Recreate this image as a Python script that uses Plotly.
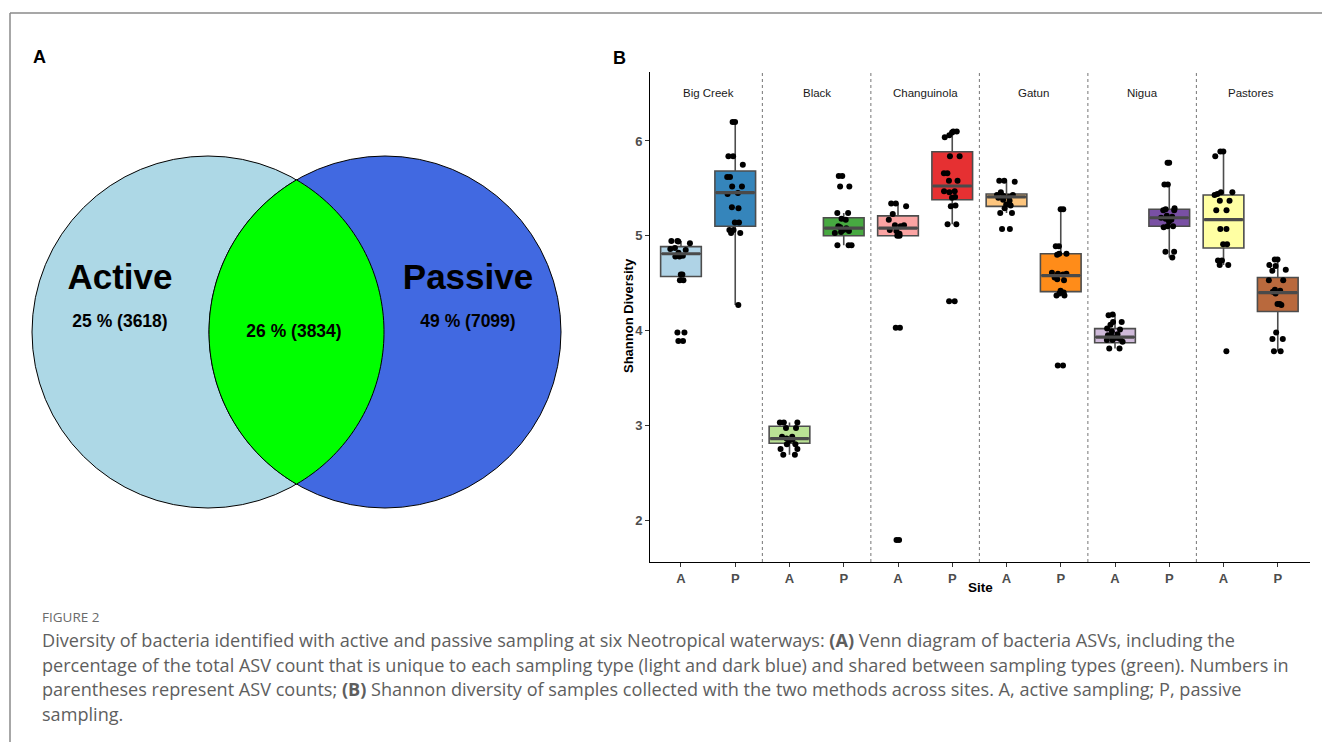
import numpy as np
import plotly.graph_objects as go

W, H = 1322, 742

# ---------------- Panel A data (Venn) ----------------
venn_sets = ["Active", "Passive"]
venn_counts = [3618, 3834, 7099]          # active-only, shared, passive-only
venn_total = sum(venn_counts)
venn_pct = [round(100 * c / venn_total) for c in venn_counts]

# ---------------- Panel B data (Shannon diversity) ----------------
sites = ["Big Creek", "Black", "Changuinola", "Gatun", "Nigua", "Pastores"]
methods = ["A", "P"]

big_creek_A = [4.945, 4.945, 4.94, 4.92, 4.87, 4.86, 4.85, 4.82, 4.79, 4.78, 4.78, 4.59, 4.59, 4.53, 4.53, 3.98, 3.98, 3.89, 3.89]
big_creek_P = [6.20, 6.20, 5.84, 5.84, 5.75, 5.62, 5.62, 5.52, 5.52, 5.45, 5.44, 5.30, 5.29, 5.14, 5.14, 5.06, 5.06, 5.03, 5.03, 4.27]
black_A = [3.03, 3.03, 3.03, 2.97, 2.97, 2.88, 2.88, 2.86, 2.85, 2.84, 2.80, 2.80, 2.75, 2.75, 2.69, 2.69]
black_P = [5.63, 5.63, 5.52, 5.52, 5.24, 5.24, 5.18, 5.17, 5.10, 5.09, 5.08, 5.06, 5.05, 5.04, 5.03, 4.90, 4.90, 4.90]
changuinola_A = [5.34, 5.34, 5.31, 5.23, 5.17, 5.11, 5.11, 5.10, 5.06, 5.05, 5.02, 5.01, 5.00, 5.00, 4.03, 4.03, 1.79, 1.79]
changuinola_P = [6.10, 6.10, 6.09, 6.06, 6.04, 5.84, 5.84, 5.66, 5.66, 5.58, 5.58, 5.47, 5.47, 5.46, 5.41, 5.40, 5.32, 5.31, 5.12, 5.12, 4.31, 4.31]
gatun_A = [5.58, 5.58, 5.57, 5.46, 5.43, 5.43, 5.42, 5.41, 5.40, 5.38, 5.37, 5.33, 5.32, 5.29, 5.24, 5.24, 5.07, 5.07]
gatun_P = [5.28, 5.28, 4.89, 4.89, 4.81, 4.81, 4.80, 4.61, 4.60, 4.60, 4.59, 4.56, 4.54, 4.53, 4.42, 4.40, 4.39, 4.37, 4.37, 3.63, 3.63]
nigua_A = [4.17, 4.16, 4.09, 4.09, 4.06, 4.02, 4.01, 3.99, 3.96, 3.95, 3.94, 3.92, 3.92, 3.91, 3.90, 3.90, 3.88, 3.81, 3.81]
nigua_P = [5.77, 5.77, 5.54, 5.54, 5.29, 5.28, 5.27, 5.27, 5.21, 5.20, 5.19, 5.18, 5.17, 5.15, 5.10, 5.10, 5.09, 4.83, 4.83, 4.77]
pastores_A = [5.89, 5.89, 5.84, 5.46, 5.46, 5.44, 5.43, 5.37, 5.37, 5.27, 5.27, 5.07, 5.07, 4.91, 4.91, 4.74, 4.74, 4.69, 4.69, 3.78]
pastores_P = [4.75, 4.75, 4.69, 4.68, 4.64, 4.63, 4.53, 4.53, 4.43, 4.42, 4.41, 4.39, 4.28, 4.28, 4.27, 3.98, 3.91, 3.91, 3.78, 3.78]

samples = [big_creek_A, big_creek_P, black_A, black_P, changuinola_A, changuinola_P,
           gatun_A, gatun_P, nigua_A, nigua_P, pastores_A, pastores_P]

# box statistics as drawn in the figure (same group order as samples)
box_q1 = [4.57, 5.10, 2.81, 5.00, 5.00, 5.38, 5.31, 4.41, 3.87, 5.10, 4.87, 4.20]
box_median = [4.81, 5.455, 2.86, 5.08, 5.08, 5.525, 5.41, 4.58, 3.93, 5.19, 5.17, 4.40]
box_q3 = [4.885, 5.683, 2.99, 5.19, 5.21, 5.887, 5.44, 4.81, 4.02, 5.28, 5.43, 4.56]
box_lower = [4.52, 4.27, 2.69, 4.90, 5.00, 5.12, 5.24, 4.37, 3.81, 4.77, 4.69, 3.78]
box_upper = [4.945, 6.20, 3.03, 5.24, 5.34, 6.10, 5.57, 5.28, 4.17, 5.54, 5.89, 4.75]

y_ticks = [2, 3, 4, 5, 6]

palette = ["#A6CEE3", "#1F78B4", "#B2DF8A", "#33A02C", "#FB9A99", "#E31A1C",
           "#FDBF6F", "#FF7F00", "#CAB2D6", "#6A3D9A", "#FFFF99", "#B15928"]

caption_head = "FIGURE 2"
caption_lines = [
    "Diversity of bacteria identified with active and passive sampling at six Neotropical waterways: <b>(A)</b> Venn diagram of bacteria ASVs, including the",
    "percentage of the total ASV count that is unique to each sampling type (light and dark blue) and shared between sampling types (green). Numbers in",
    "parentheses represent ASV counts; <b>(B)</b> Shannon diversity of samples collected with the two methods across sites. A, active sampling; P, passive",
    "sampling.",
]

FONT = "Liberation Sans, Arial, sans-serif"
CAPFONT = "Open Sans, Liberation Sans, sans-serif"


def rgba(hexc, a):
    h = hexc.lstrip("#")
    r, g, b = int(h[0:2], 16), int(h[2:4], 16), int(h[4:6], 16)
    return f"rgba({r},{g},{b},{a})"


fig = go.Figure()

BOXW = 0.75
positions = [2 * i + j for i in range(len(sites)) for j in range(len(methods))]

# boxes from the statistics
for k, pos in enumerate(positions):
    fig.add_trace(go.Box(
        x=[pos], q1=[box_q1[k]], median=[box_median[k]], q3=[box_q3[k]],
        lowerfence=[box_lower[k]], upperfence=[box_upper[k]],
        fillcolor=rgba(palette[k], 0.9), line=dict(color="#4d4d4d", width=1.6),
        width=BOXW, whiskerwidth=0, boxpoints=False, showlegend=False,
        xaxis="x", yaxis="y", hoverinfo="skip"))

# thick median bars
mx, my = [], []
for k, pos in enumerate(positions):
    mx += [pos - BOXW / 2 + 0.02, pos + BOXW / 2 - 0.02, None]
    my += [box_median[k], box_median[k], None]
fig.add_trace(go.Scatter(x=mx, y=my, mode="lines", line=dict(color="#4a4a4a", width=3.2),
                         showlegend=False, hoverinfo="skip", xaxis="x", yaxis="y"))

# jittered sample points
for k, pos in enumerate(positions):
    vals = samples[k]
    fig.add_trace(go.Box(
        x=[pos] * len(vals), y=vals, boxpoints="all", jitter=0.55, pointpos=0,
        width=BOXW, fillcolor="rgba(0,0,0,0)", line=dict(color="rgba(0,0,0,0)", width=0),
        marker=dict(color="black", size=6, line=dict(width=0)),
        showlegend=False, xaxis="x", yaxis="y", hoverinfo="y"))

# ---------------- Venn (pixel-space axes x2/y2) ----------------
R = 176
c1 = (208, 332)
c2 = (385, 332)
d = c2[0] - c1[0]
th0 = np.arccos((c1[0] + d / 2 - c2[0]) / R)
a2 = np.linspace(th0, 2 * np.pi - th0, 80)
a1 = np.linspace(-(np.pi - th0), np.pi - th0, 80)
px = list(c2[0] + R * np.cos(a2)) + list(c1[0] + R * np.cos(a1))
py = list(c2[1] - R * np.sin(a2)) + list(c1[1] - R * np.sin(a1))
lens = "M " + " L ".join(f"{x:.2f},{y:.2f}" for x, y in zip(px, py)) + " Z"

shapes = [
    dict(type="circle", xref="x2", yref="y2", x0=c1[0] - R, x1=c1[0] + R, y0=c1[1] - R, y1=c1[1] + R,
         fillcolor="#ADD8E6", line=dict(color="black", width=1), layer="below"),
    dict(type="circle", xref="x2", yref="y2", x0=c2[0] - R, x1=c2[0] + R, y0=c2[1] - R, y1=c2[1] + R,
         fillcolor="#4169E1", line=dict(color="black", width=1), layer="below"),
    dict(type="path", xref="x2", yref="y2", path=lens, fillcolor="#00FF00",
         line=dict(color="black", width=1), layer="below"),
]

venn_text = [f"<b>{venn_sets[0]}</b>", f"<b>{venn_pct[0]} % ({venn_counts[0]})</b>",
             f"<b>{venn_pct[1]} % ({venn_counts[1]})</b>",
             f"<b>{venn_sets[1]}</b>", f"<b>{venn_pct[2]} % ({venn_counts[2]})</b>"]
venn_x = [120, 120, 294, 468, 468]
venn_y = [280, 323, 333, 280, 323]
venn_size = [35, 17.5, 17.5, 35, 17.5]
fig.add_trace(go.Scatter(x=venn_x, y=venn_y, text=venn_text, mode="text",
                         textfont=dict(family=FONT, size=venn_size, color="black"),
                         xaxis="x2", yaxis="y2", showlegend=False, hoverinfo="skip"))

# facet dividers
for i in range(1, len(sites)):
    shapes.append(dict(type="line", xref="x", yref="paper", x0=2 * i - 0.5, x1=2 * i - 0.5,
                       y0=1 - 562 / H, y1=1 - 72 / H, layer="below",
                       line=dict(color="#666666", width=0.9, dash="3px,3px")))

# frame lines of the figure page
shapes.append(dict(type="line", xref="paper", yref="paper", x0=10 / W, x1=1.0, y0=1 - 13 / H, y1=1 - 13 / H,
                   line=dict(color="#8a8a8a", width=1.5)))
shapes.append(dict(type="line", xref="paper", yref="paper", x0=10 / W, x1=10 / W, y0=0, y1=1 - 13 / H,
                   line=dict(color="#8a8a8a", width=1.5)))


def ann(text, xp, yp, size, color="black", family=FONT, xanchor="center", **kw):
    return dict(text=text, x=xp / W, y=1 - yp / H, xref="paper", yref="paper",
                xanchor=xanchor, yanchor="middle", showarrow=False,
                font=dict(family=family, size=size, color=color), **kw)


annotations = [
    ann("<b>A</b>", 39, 57, 18),
    ann("<b>B</b>", 619, 58, 18),
    ann("<b>Shannon Diversity</b>", 628, 316, 13, textangle=-90),
    ann("<b>Site</b>", 980, 587, 13.5),
    ann(caption_head, 40, 617, 13.5, color="#6a6a6a", family=CAPFONT, xanchor="left"),
]
for i, s in enumerate(sites):
    annotations.append(dict(text=s, x=2 * i + 0.5, y=1 - 93 / H, xref="x", yref="paper",
                            xanchor="center", yanchor="middle", showarrow=False,
                            font=dict(family=FONT, size=11.5, color="#1a1a1a")))
for n, line in enumerate(caption_lines):
    annotations.append(ann(line, 40, 640 + 24.5 * n, 18.1, color="#5e5e5e", family=CAPFONT,
                           xanchor="left", align="left"))

tickfont = dict(family=FONT, size=13, color="#4d4d4d")
fig.update_layout(
    width=W, height=H, autosize=False,
    margin=dict(l=0, r=0, t=0, b=0),
    paper_bgcolor="white", plot_bgcolor="white",
    showlegend=False,
    xaxis=dict(domain=[650 / W, 1310 / W], range=[-0.571, 11.594], anchor="y",
               tickmode="array", tickvals=positions,
               ticktext=[f"<b>{methods[p % 2]}</b>" for p in positions],
               showline=True, linecolor="black", linewidth=1, ticks="outside", ticklen=4,
               tickcolor="#333333", tickwidth=1, tickfont=tickfont, showgrid=False, zeroline=False,
               fixedrange=True),
    yaxis=dict(domain=[1 - 562 / H, 1 - 72 / H], range=[1.557, 6.728], anchor="x",
               tickmode="array", tickvals=y_ticks, ticktext=[f"<b>{t}</b>" for t in y_ticks],
               showline=True, linecolor="black", linewidth=1, ticks="outside", ticklen=4,
               tickcolor="#333333", tickwidth=1, tickfont=tickfont, showgrid=False, zeroline=False,
               fixedrange=True),
    xaxis2=dict(domain=[0, 600 / W], range=[0, 600], anchor="y2", visible=False, fixedrange=True),
    yaxis2=dict(domain=[0, 1], range=[742, 0], anchor="x2", visible=False, fixedrange=True),
    shapes=shapes,
    annotations=annotations,
)

fig.write_html("out.html", config={"displayModeBar": False},
               post_script="document.body.style.margin='0px';")
